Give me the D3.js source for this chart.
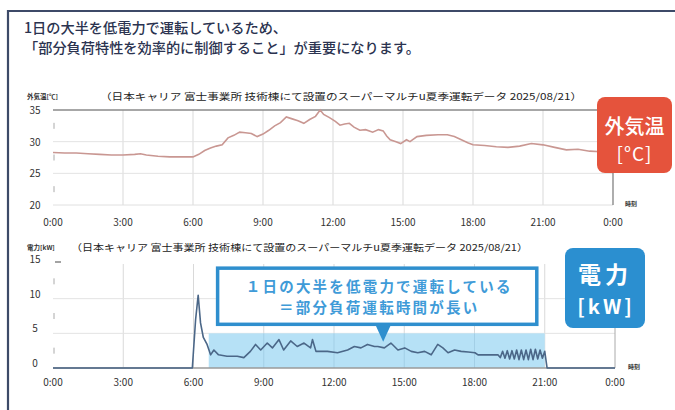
<!DOCTYPE html>
<html><head><meta charset="utf-8">
<script src="https://cdn.jsdelivr.net/npm/d3@7"></script>
<style>
body{margin:0;background:#fff;}
svg{display:block;font-family:"Noto Sans CJK JP","Noto Sans",sans-serif;}
</style></head>
<body><svg id="c" width="675" height="410"></svg>
<script>
// ---- data ----
const titleLines = ["1日の大半を低電力で運転しているため、","「部分負荷特性を効率的に制御すること」が重要になります。"];
const subtitle = "（日本キャリア 富士事業所 技術棟にて設置のスーパーマルチu夏季運転データ 2025/08/21）";
const xTickHours = [0,3,6,9,12,15,18,21,24];
const xTickLabels = ["0:00","3:00","6:00","9:00","12:00","15:00","18:00","21:00","0:00"];
const tempTicks = [20,25,30,35];
const powerTicks = [0,5,10,15];

const tempHours = [0,0.5,1,1.5,2,2.5,3,3.5,3.75,4,4.5,5,5.5,6,6.25,6.5,6.75,7,7.25,7.5,7.75,8,8.25,8.5,8.75,9,9.25,9.5,9.75,10,10.25,10.5,10.75,11,11.25,11.45,11.6,11.85,12.1,12.3,12.5,12.7,12.9,13.15,13.4,13.7,13.95,14.15,14.3,14.45,14.7,14.9,15.15,15.3,15.6,16,16.5,16.9,17.2,17.5,17.8,18,18.5,19,19.5,20,20.5,21,21.5,22,22.5,23,23.5,24];
const tempValues = [28.3,28.2,28.2,28.1,28.0,27.9,27.9,28.0,28.1,27.9,27.7,27.6,27.6,27.6,28.0,28.6,29.0,29.3,29.5,30.6,31.0,31.5,31.4,31.3,30.8,31.2,31.8,32.5,33.0,33.9,33.6,33.3,32.9,33.5,34.0,35.0,34.3,33.8,33.2,32.6,32.8,32.9,32.3,31.8,31.9,31.5,31.9,31.7,30.9,30.3,30.0,29.7,30.3,30.0,30.8,31.0,31.1,31.1,30.8,30.3,29.8,29.5,29.4,29.2,29.1,29.3,29.7,29.5,29.1,28.7,28.8,28.5,28.4,28.3];

const powerHours = [0,5.95,6.09,6.2,6.3,6.42,6.58,6.73,6.87,7.07,7.43,7.87,8.15,8.43,8.65,8.87,9.15,9.37,9.65,9.85,10.15,10.43,10.72,11.0,11.08,11.23,11.72,12.15,12.58,12.87,13.15,13.43,13.73,13.87,14.15,14.43,14.73,15.02,15.3,15.58,15.87,16.15,16.43,16.65,16.87,17.15,17.43,17.73,18.02,18.15,19.0,19.1,19.2,19.3,19.4,19.5,19.6,19.7,19.8,19.9,20.0,20.1,20.2,20.3,20.4,20.5,20.6,20.7,20.8,20.9,21.0,21.1,24];
const powerValues = [0,0,7,10.5,6.5,4.4,3.4,1.9,2.6,1.9,1.7,1.7,1.5,2.4,3.4,2.6,3.6,2.9,4.1,2.6,3.9,3.1,3.6,2.9,4.1,2.4,2.4,2.2,2.6,3.1,2.9,3.4,3.1,3.1,2.9,3.6,2.6,2.9,2.4,2.2,2.4,1.9,3.4,2.9,2.2,2.6,2.4,2.3,2.2,1.9,1.9,1.5,2.4,1.4,2.5,1.3,2.5,1.3,2.6,1.2,2.6,1.2,2.6,1.2,2.7,1.2,2.7,1.3,2.6,1.4,2.4,0,0];

const highlightHours = [6.65, 21.0];
const highlightLevel = 5;
const calloutLines = ["１日の大半を低電力で運転している","＝部分負荷運転時間が長い"];
const calloutBox = {h0:7.03, h1:20.66, v0:14.4, v1:6.3, tipH:14.1, tipV:3.8};

// ---- drawing ----
const svg = d3.select("#c");
const navy = "#2b3350";

// frame
svg.append("path").attr("d","M8,410 L8,11 L675,11").attr("fill","none").attr("stroke","#3d4a68").attr("stroke-width",2.2);

// title
svg.append("g").selectAll("text").data(titleLines).join("text")
  .attr("x",24).attr("y",(d,i)=>33+i*20).attr("font-size",14.2).attr("fill",navy)
  .attr("font-weight",500).text(d=>d);

function panel(opts){
  const g = svg.append("g");
  const x = d3.scaleLinear().domain([0,24]).range([53,opts.xr]);
  const y = d3.scaleLinear().domain(opts.dom).range(opts.yr);
  g.selectAll("line.vg").data(xTickHours.slice(1,-1)).join("line")
    .attr("x1",d=>x(d)).attr("x2",d=>x(d)).attr("y1",y(opts.dom[1])).attr("y2",y(opts.dom[0]))
    .attr("stroke","#d9d9d9").attr("stroke-width",1);
  g.selectAll("line.hg").data(opts.ticks.slice(1,-1)).join("line")
    .attr("x1",x(0)).attr("x2",x(24)).attr("y1",d=>y(d)).attr("y2",d=>y(d))
    .attr("stroke","#e3e3e3").attr("stroke-width",1);
  return {g,x,y};
}

// ---- temperature panel ----
const T = panel({xr:613, dom:[20,35], yr:[205,110], ticks:tempTicks});
T.g.append("line").attr("x1",T.x(0)).attr("x2",T.x(24)).attr("y1",T.y(35)).attr("y2",T.y(35)).attr("stroke","#8a8a8a").attr("stroke-width",1.3);
T.g.append("line").attr("x1",T.x(0)).attr("x2",T.x(24)).attr("y1",T.y(20)).attr("y2",T.y(20)).attr("stroke","#e0e0e0").attr("stroke-width",1);
T.g.append("line").attr("x1",T.x(24)).attr("x2",T.x(24)).attr("y1",T.y(35)).attr("y2",T.y(20)).attr("stroke","#777").attr("stroke-width",1.2);
T.g.selectAll("line.mt").data([22.5,27.5,32.5]).join("line")
  .attr("x1",T.x(0)+1).attr("x2",T.x(0)+1).attr("y1",d=>T.y(d)-3).attr("y2",d=>T.y(d)+3)
  .attr("stroke","#aaa").attr("stroke-width",1);
T.g.selectAll("text.yl").data(tempTicks).join("text")
  .attr("x",35).attr("y",d=>T.y(d)+4).attr("text-anchor","middle").attr("font-size",10).attr("fill","#333").text(d=>d);
T.g.selectAll("text.xl").data(xTickHours).join("text")
  .attr("x",d=>T.x(d)).attr("y",226).attr("text-anchor","middle").attr("font-size",10).attr("fill","#333")
  .text((d,i)=>xTickLabels[i]);
const tempPts = tempHours.map((h,i)=>[h,tempValues[i]]);
T.g.append("path").attr("d",d3.line().x(d=>T.x(d[0])).y(d=>T.y(d[1]))(tempPts))
  .attr("fill","none").attr("stroke","#c99792").attr("stroke-width",1.6);
svg.append("text").attr("x",27).attr("y",99).attr("font-size",6.5).attr("font-weight",700).attr("fill","#333").text("外気温[℃]");
svg.append("text").attr("x",100).attr("y",100).attr("font-size",9.5).attr("fill","#222").attr("textLength",482).attr("lengthAdjust","spacingAndGlyphs").text(subtitle);
svg.append("text").attr("x",625).attr("y",206).attr("font-size",6).attr("font-weight",700).attr("fill","#333").text("時刻");

// badge temp
const bt = svg.append("g");
bt.append("rect").attr("x",597).attr("y",97).attr("width",75).attr("height",76).attr("rx",8).attr("fill","#e5533c");
bt.append("text").attr("x",634.5).attr("y",134).attr("text-anchor","middle").attr("font-size",20).attr("font-weight",500).attr("fill","#fff").text("外気温");
bt.append("text").attr("x",634.5).attr("y",161).attr("text-anchor","middle").attr("font-size",19).attr("fill","#fff").attr("letter-spacing",1).text("[°C]");

// ---- power panel ----
const P = panel({xr:615, dom:[0,15], yr:[368,264], ticks:powerTicks});
P.g.append("rect").attr("x",P.x(highlightHours[0])).attr("y",P.y(highlightLevel))
  .attr("width",P.x(highlightHours[1])-P.x(highlightHours[0])).attr("height",P.y(0)-P.y(highlightLevel))
  .attr("fill","#b6e1f6");
P.g.selectAll("line.vg2").data(xTickHours.slice(1,-1).filter(h=>h>highlightHours[0]&&h<highlightHours[1])).join("line")
  .attr("x1",d=>P.x(d)).attr("x2",d=>P.x(d)).attr("y1",P.y(highlightLevel)).attr("y2",P.y(0))
  .attr("stroke","#a3cfe6").attr("stroke-width",1);
P.g.append("line").attr("x1",P.x(0)).attr("x2",P.x(24)).attr("y1",P.y(0)).attr("y2",P.y(0)).attr("stroke","#9a9a9a").attr("stroke-width",1.3);
P.g.append("line").attr("x1",P.x(24)).attr("x2",P.x(24)).attr("y1",P.y(15)).attr("y2",P.y(0)).attr("stroke","#aaa").attr("stroke-width",1);
P.g.append("line").attr("x1",P.x(0)+2).attr("x2",P.x(0)+8).attr("y1",P.y(15)-2).attr("y2",P.y(15)-2).attr("stroke","#666").attr("stroke-width",1.2);
P.g.selectAll("line.mt").data([2.5,7.5,12.5]).join("line")
  .attr("x1",P.x(0)+1).attr("x2",P.x(0)+1).attr("y1",d=>P.y(d)-3).attr("y2",d=>P.y(d)+3)
  .attr("stroke","#aaa").attr("stroke-width",1);
P.g.selectAll("text.yl").data(powerTicks).join("text")
  .attr("x",35).attr("y",d=>P.y(d)-1).attr("text-anchor","middle").attr("font-size",10).attr("fill","#333").text(d=>d);
P.g.selectAll("text.xl").data(xTickHours).join("text")
  .attr("x",d=>P.x(d)).attr("y",386).attr("text-anchor","middle").attr("font-size",10).attr("fill","#333")
  .text((d,i)=>xTickLabels[i]);
const powPts = powerHours.map((h,i)=>[h,powerValues[i]]);
P.g.append("path").attr("d",d3.line().x(d=>P.x(d[0])).y(d=>P.y(d[1]))(powPts))
  .attr("fill","none").attr("stroke","#4b6788").attr("stroke-width",1.6).attr("stroke-linejoin","round");
svg.append("text").attr("x",27).attr("y",250).attr("font-size",6.5).attr("font-weight",700).attr("fill","#333").text("電力[kW]");
svg.append("text").attr("x",71).attr("y",251).attr("font-size",9.5).attr("fill","#222").attr("textLength",457).attr("lengthAdjust","spacingAndGlyphs").text(subtitle);
svg.append("text").attr("x",628).attr("y",369).attr("font-size",6).attr("font-weight",700).attr("fill","#333").text("時刻");

// callout
const cb = calloutBox;
const bx0=P.x(cb.h0), bx1=P.x(cb.h1), by0=P.y(cb.v0), by1=P.y(cb.v1);
const cg = svg.append("g");
cg.append("path").attr("d",`M${P.x(cb.tipH)-8},${by1} L${P.x(cb.tipH)},${P.y(cb.tipV)} L${P.x(cb.tipH)+8},${by1} Z`).attr("fill","#2f8fce");
cg.append("rect").attr("x",bx0).attr("y",by0).attr("width",bx1-bx0).attr("height",by1-by0)
  .attr("fill","#fff").attr("stroke","#2f8fce").attr("stroke-width",3.5);
cg.selectAll("text").data(calloutLines).join("text")
  .attr("x",(bx0+bx1)/2+2).attr("y",(d,i)=>by0+24+i*21).attr("text-anchor","middle")
  .attr("font-size",14.5).attr("font-weight",700).attr("letter-spacing",2.2).attr("fill","#3f9bd8").text(d=>d);

// badge power
const bp = svg.append("g");
bp.append("rect").attr("x",565).attr("y",248).attr("width",80).attr("height",80).attr("rx",8).attr("fill","#2b8fd0");
bp.append("text").attr("x",605).attr("y",283).attr("text-anchor","middle").attr("font-size",23).attr("font-weight",700).attr("letter-spacing",4).attr("fill","#fff").text("電力");
bp.append("text").attr("x",606).attr("y",314).attr("text-anchor","middle").attr("font-size",20).attr("font-weight",700).attr("letter-spacing",3).attr("fill","#fff").text("[kW]");
</script></body></html>
